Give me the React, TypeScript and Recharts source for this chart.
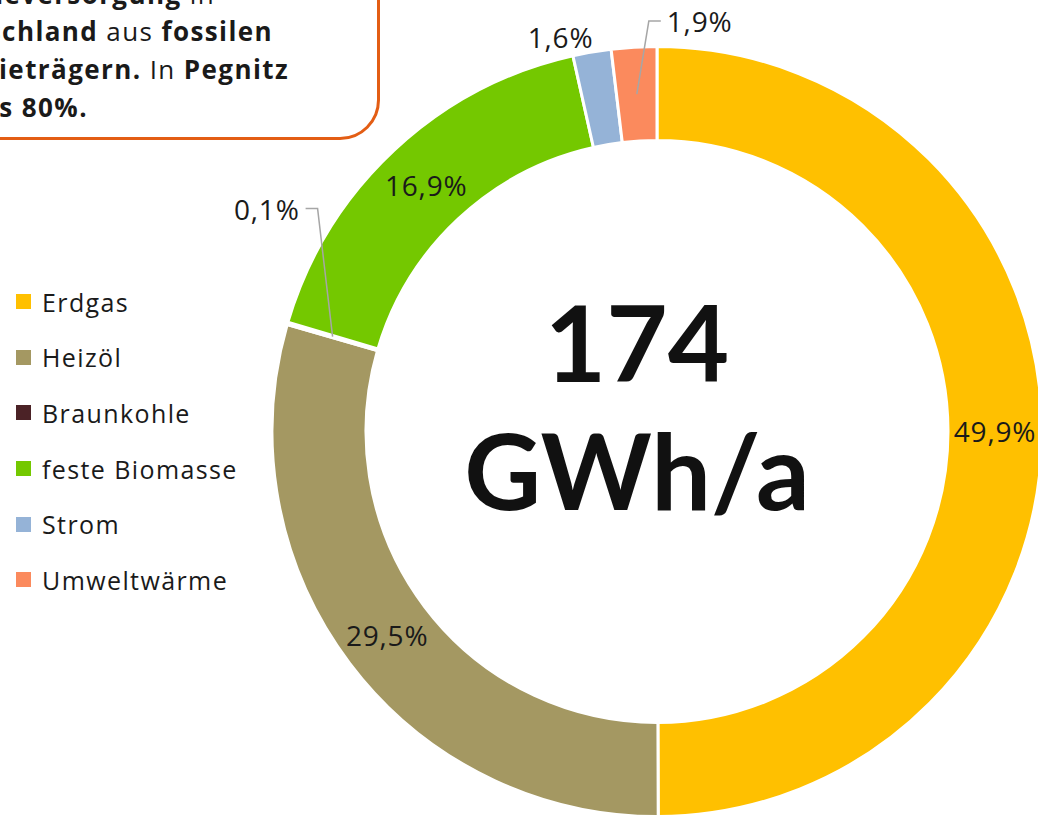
import { Pie, PieChart, Cell } from "recharts";

const CATEGORIES = ["Erdgas", "Heizöl", "Braunkohle", "feste Biomasse", "Strom", "Umweltwärme"];
const SHARES = [49.9, 29.5, 0.1, 16.9, 1.6, 1.9];
const COLORS = ["#FFC000", "#A49862", "#4B2226", "#74C800", "#95B3D7", "#FB8A5D"];
const TOTAL_LABEL = "174";
const UNIT_LABEL = "GWh/a";

const FONT = "'Open Sans', 'Noto Sans', sans-serif";
const TITLE_FONT = "Lato, 'Open Sans', sans-serif";
const WIDTH = 1038;
const HEIGHT = 816;
const INNER = 291;
const OUTER = 385;
const RADIAN = Math.PI / 180;

const data = CATEGORIES.map((name, i) => ({ name, value: SHARES[i] }));

// small slices get their label outside; two of them with an elbow leader
const OUTSIDE: Record<string, { dx: number; dy: number; side: number } | null> = {
  Braunkohle: { dx: -15, dy: -128, side: -1 },
  Umweltwärme: { dx: 12, dy: -73, side: 1 },
  Strom: null,
};

function pct(v: number): string {
  return v.toFixed(1).replace(".", ",") + "%";
}

function renderLabel(props: any) {
  const { cx, cy, midAngle, name, value } = props;
  const polar = (r: number) => ({
    x: cx + r * Math.cos(-midAngle * RADIAN),
    y: cy + r * Math.sin(-midAngle * RADIAN),
  });
  const text = pct(value);
  const mid = (INNER + OUTER) / 2;
  const style = { fontFamily: FONT, fontSize: 28, letterSpacing: 0.8, fill: "#1a1a1a" };

  if (!(name in OUTSIDE)) {
    const p = polar(mid);
    return (
      <text x={p.x} y={p.y} textAnchor="middle" dominantBaseline="central" style={style}>
        {text}
      </text>
    );
  }

  const leader = OUTSIDE[name];
  if (!leader) {
    const p = polar(OUTER + 15);
    return (
      <text x={p.x + 4} y={p.y} textAnchor="end" dominantBaseline="central" style={style}>
        {text}
      </text>
    );
  }

  const s = polar(mid);
  const ex = s.x + leader.dx;
  const ey = s.y + leader.dy;
  const hx = ex + leader.side * 12;
  return (
    <g>
      <polyline
        points={`${s.x},${s.y} ${ex},${ey} ${hx},${ey}`}
        fill="none"
        stroke="#A6A6A6"
        strokeWidth={1.5}
      />
      <text
        x={hx + leader.side * 6}
        y={ey}
        textAnchor={leader.side > 0 ? "start" : "end"}
        dominantBaseline="central"
        style={style}
      >
        {text}
      </text>
    </g>
  );
}

function LegendList() {
  return (
    <div
      style={{
        position: "absolute",
        left: 16,
        top: 274,
        fontFamily: FONT,
        fontSize: 25,
        letterSpacing: 1.4,
        color: "#1a1a1a",
      }}
    >
      {CATEGORIES.map((name, i) => (
        <div key={name} style={{ display: "flex", alignItems: "center", height: 55.6 }}>
          <span
            style={{
              display: "inline-block",
              width: 15,
              height: 15,
              background: COLORS[i],
              marginRight: 11,
            }}
          />
          <span>{name}</span>
        </div>
      ))}
    </div>
  );
}

const lineStyle = (top: number, endX: number): React.CSSProperties => ({
  position: "absolute",
  top,
  right: WIDTH - endX,
  whiteSpace: "nowrap",
  lineHeight: "38px",
});

export default function App() {
  return (
    <div
      style={{
        position: "absolute",
        left: 0,
        top: 0,
        width: WIDTH,
        height: HEIGHT,
        overflow: "hidden",
        background: "#fff",
        fontFamily: FONT,
      }}
    >
      <PieChart width={WIDTH} height={HEIGHT} margin={{ top: 0, right: 0, bottom: 0, left: 0 }}>
        <Pie
          data={data}
          dataKey="value"
          nameKey="name"
          cx={657}
          cy={431.5}
          innerRadius={INNER}
          outerRadius={OUTER}
          startAngle={90}
          endAngle={-270}
          stroke="#fff"
          strokeWidth={3}
          label={renderLabel}
          labelLine={false}
          isAnimationActive={false}
        >
          {data.map((d, i) => (
            <Cell key={d.name} fill={COLORS[i]} />
          ))}
        </Pie>
      </PieChart>

      <LegendList />

      {/* centre total */}
      <div
        style={{
          position: "absolute",
          left: 637 - 250,
          width: 500,
          top: 277,
          textAlign: "center",
          fontFamily: TITLE_FONT,
          fontWeight: 700,
          fontSize: 106,
          lineHeight: "128px",
          color: "#111",
        }}
      >
        <div>{TOTAL_LABEL}</div>
        <div>{UNIT_LABEL}</div>
      </div>

      {/* callout box, cut by the page edge */}
      <div
        style={{
          position: "absolute",
          left: -40,
          top: -40,
          width: 420,
          height: 180,
          border: "3px solid #E35D14",
          borderRadius: 40,
          boxSizing: "border-box",
        }}
      />
      <div
        style={{
          fontSize: 26,
          letterSpacing: 1.4,
          color: "#1a1a1a",
          position: "absolute",
          inset: 0,
        }}
      >
        <div style={lineStyle(-25, 215)}>
          <b>der Wärmeversorgung</b> in
        </div>
        <div style={lineStyle(12, 273)}>
          <b>Deutschland</b> aus <b>fossilen</b>
        </div>
        <div style={lineStyle(50, 289)}>
          <b>Energieträgern.</b> In <b>Pegnitz</b>
        </div>
        <div style={lineStyle(88, 88)}>
          <b>bis 80%.</b>
        </div>
      </div>
    </div>
  );
}
